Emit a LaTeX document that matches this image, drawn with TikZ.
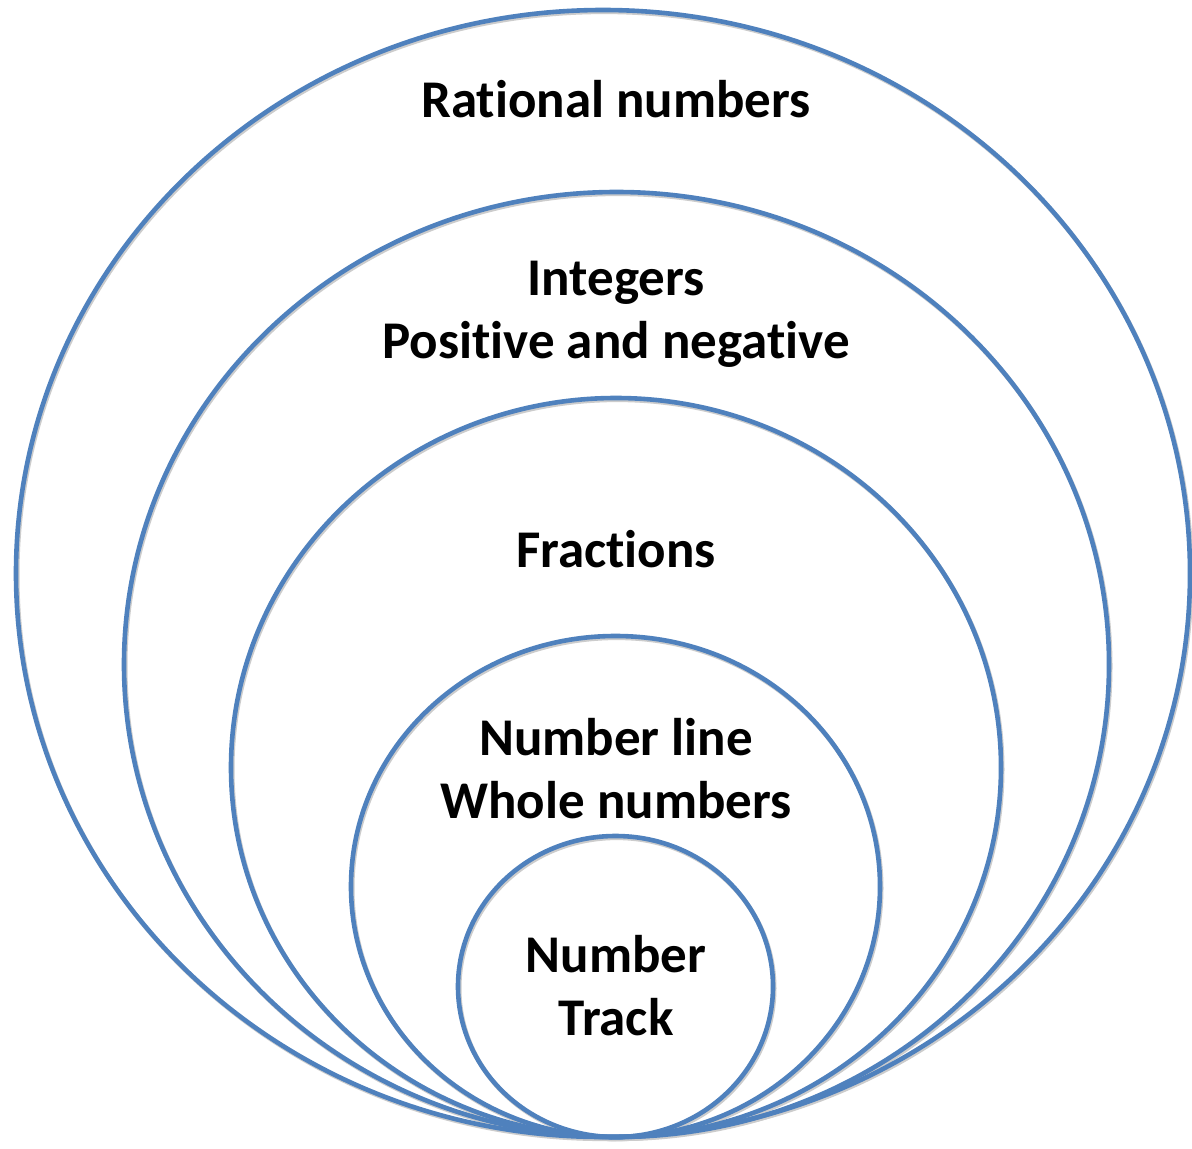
\documentclass[tikz,border=0pt]{standalone}
\usepackage{fontspec}
\setmainfont[Ligatures=NoCommon]{Carlito}
\begin{document}
\begin{tikzpicture}[x=1pt,y=-1pt,
  ring/.style={draw=ringblue,line width=4.6pt},
  ringshadow/.style={draw=black!20,line width=4.6pt},
  lbl/.style={font=\fontsize{53}{63}\selectfont\bfseries,align=center,anchor=base,inner sep=0pt}]
\definecolor{ringblue}{HTML}{4F81BD}
\useasboundingbox (0,0) rectangle (1192,1149);
\fill[white] (0,0) rectangle (1192,1149);
% shadows
\foreach \cx/\cy/\rx/\ry in {603/573.5/587/563.5, 616.5/664.5/492.5/472.5, 616/767.5/385/369.5, 615.5/886.5/264.5/250.5, 615.5/986.5/157.5/150.5}
  \draw[ringshadow] (\cx+1.2,\cy+1.8) ellipse[x radius=\rx,y radius=\ry];
% rings
\draw[ring] (603,573.5) coordinate (c1) ellipse[x radius=587,y radius=563.5];
\draw[ring] (616.5,664.5) coordinate (c2) ellipse[x radius=492.5,y radius=472.5];
\draw[ring] (616,767.5) coordinate (c3) ellipse[x radius=385,y radius=369.5];
\draw[ring] (615.5,886.5) coordinate (c4) ellipse[x radius=264.5,y radius=250.5];
\draw[ring] (615.5,986.5) coordinate (c5) ellipse[x radius=157.5,y radius=150.5];
% labels
\node[lbl] (t1) at (616,117) {Rational numbers};
\node[lbl] (t2) at (616,358) {Integers\\Positive and negative};
\node[lbl] (t3) at (616,567) {Fractions};
\node[lbl] (t4) at (616,818) {Number line\\Whole numbers};
\node[lbl] (t5) at (616,1035) {Number\\Track};
\end{tikzpicture}
\end{document}
